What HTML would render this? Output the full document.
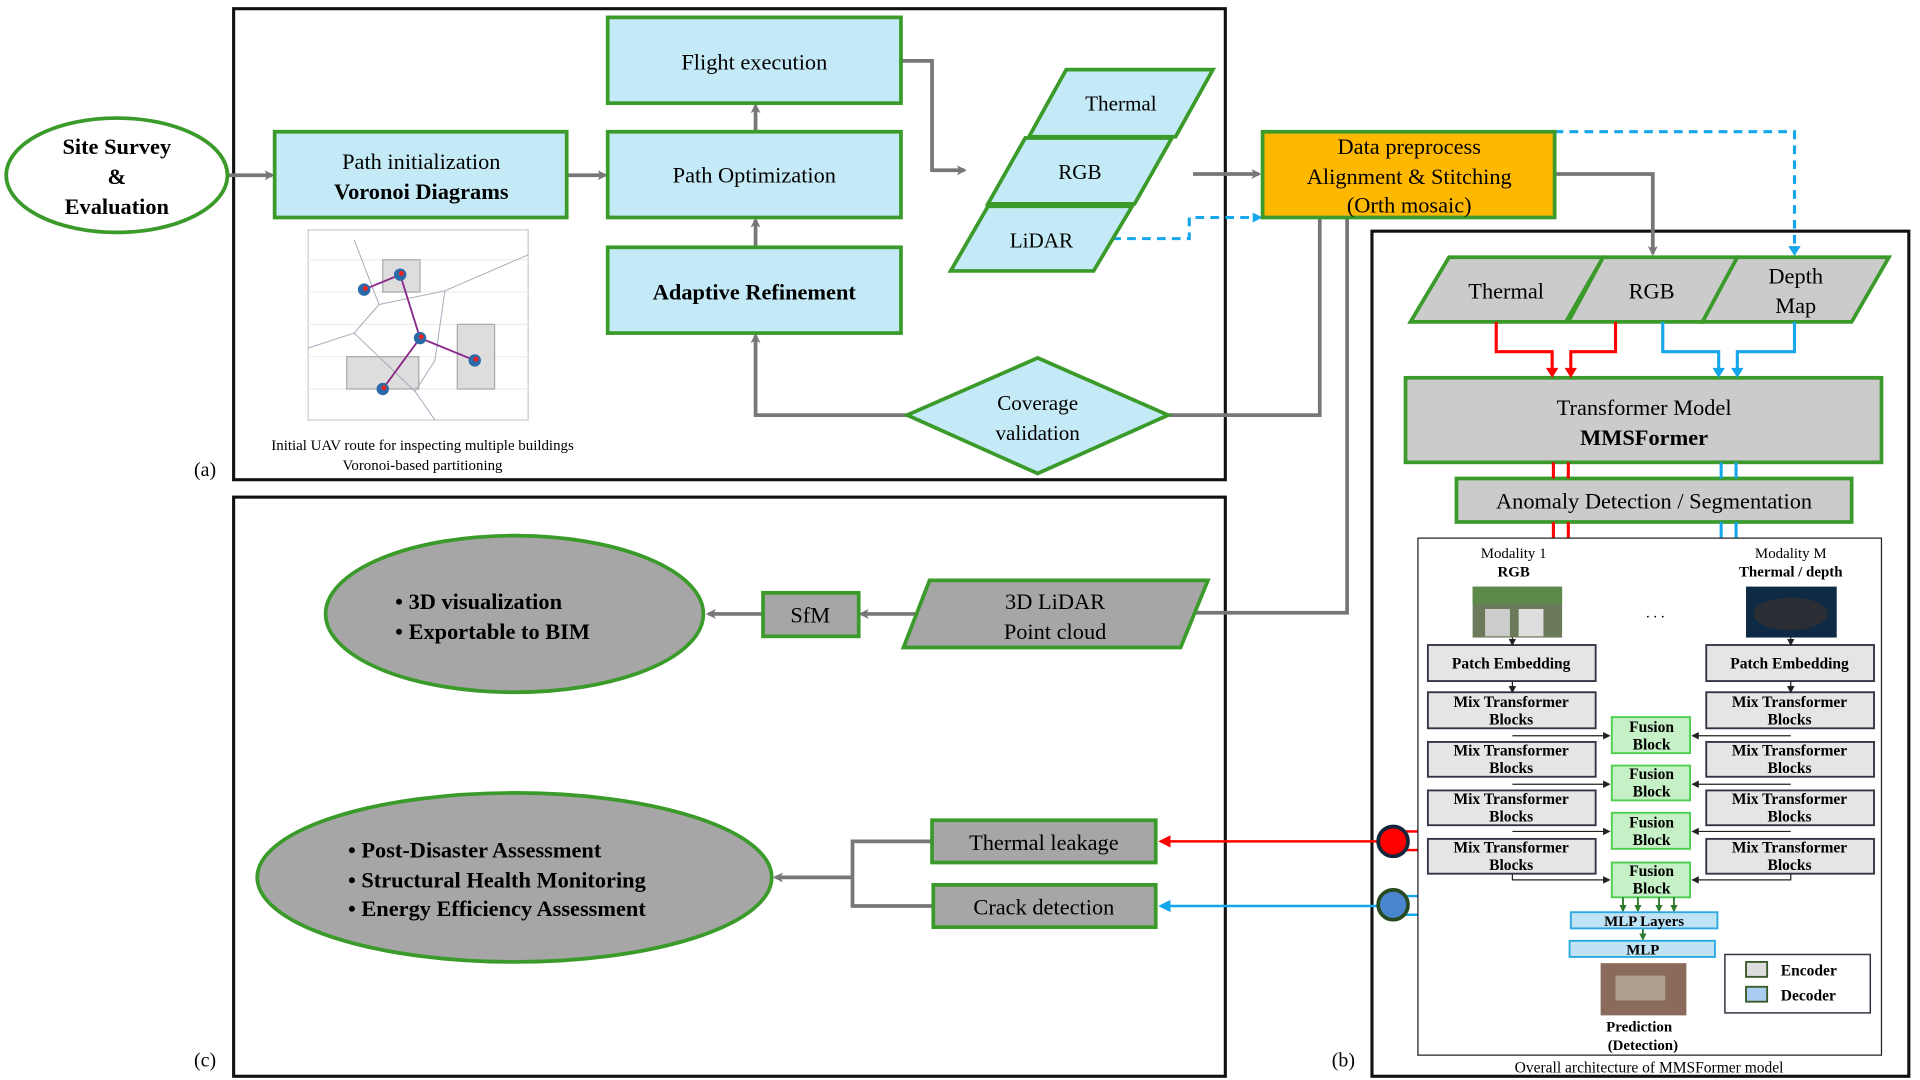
<!DOCTYPE html>
<html><head><meta charset="utf-8"><style>
html,body{margin:0;padding:0;background:#fff;}
svg{display:block;}
text{font-family:"Liberation Serif",serif;fill:#000;}
</style></head><body>
<svg width="1920" height="1080" viewBox="0 0 1545 869" preserveAspectRatio="none" xmlns="http://www.w3.org/2000/svg">
<defs>
<marker id="ag" markerWidth="8" markerHeight="8" refX="6" refY="4" orient="auto" markerUnits="userSpaceOnUse"><path d="M0,0 L8,4 L0,8 L2,4z" fill="#777"/></marker>
<marker id="ar" markerWidth="10" markerHeight="10" refX="8" refY="5" orient="auto" markerUnits="userSpaceOnUse"><path d="M0,0 L10,5 L0,10z" fill="#f00"/></marker>
<marker id="ab" markerWidth="10" markerHeight="10" refX="8" refY="5" orient="auto" markerUnits="userSpaceOnUse"><path d="M0,0 L10,5 L0,10z" fill="#16a6ec"/></marker>
<marker id="ak" markerWidth="6" markerHeight="6" refX="5" refY="3" orient="auto" markerUnits="userSpaceOnUse"><path d="M0,0 L6,3 L0,6z" fill="#222"/></marker>
<marker id="agr" markerWidth="6" markerHeight="6" refX="5" refY="3" orient="auto" markerUnits="userSpaceOnUse"><path d="M0,0 L6,3 L0,6z" fill="#2d7a2d"/></marker>
</defs>

<!-- panels -->
<rect x="188" y="7" width="798" height="379" fill="none" stroke="#111" stroke-width="2.5"/>
<rect x="188" y="400" width="798" height="466" fill="none" stroke="#111" stroke-width="2.5"/>
<rect x="1104" y="186" width="432" height="680" fill="none" stroke="#111" stroke-width="2.5"/>
<text x="165" y="383" font-size="16" text-anchor="middle">(a)</text>
<text x="165" y="858" font-size="16" text-anchor="middle">(c)</text>
<text x="1081" y="858" font-size="16" text-anchor="middle">(b)</text>

<!-- gray connectors panel a -->
<g stroke="#777" stroke-width="3" fill="none" marker-end="url(#ag)">
<line x1="183" y1="141" x2="219" y2="141"/>
<line x1="456" y1="141" x2="487" y2="141"/>
<line x1="608" y1="106" x2="608" y2="85"/>
<line x1="608" y1="199" x2="608" y2="177"/>
<polyline points="725,49 750,49 750,137 776,137"/>
<line x1="960" y1="140" x2="1013" y2="140"/>
<polyline points="730,334 608,334 608,270"/>
<polyline points="1251,140 1330,140 1330,204"/>
<polyline points="1084,175 1084,493 949,493"/>
<line x1="748" y1="494" x2="693" y2="494"/>
<line x1="614" y1="494" x2="570" y2="494"/>
<polyline points="750,677 686,677 686,729 751,729" marker-end="none"/>
<line x1="686" y1="706" x2="624" y2="706"/>
</g>
<polyline points="940,334 1062,334 1062,175" stroke="#777" stroke-width="3" fill="none"/>

<!-- dashed blue -->
<g stroke="#16a6ec" stroke-width="2.5" fill="none" stroke-dasharray="7,5">
<polyline points="895,192 957,192 957,175 1010,175"/>
<polyline points="1251,106 1444,106 1444,200"/>
</g>
<path d="M1008,171 L1016,175 L1008,179z" fill="#16a6ec"/>
<path d="M1439,198 L1444,206 L1449,198z" fill="#16a6ec"/>

<!-- site survey -->
<ellipse cx="94" cy="141" rx="89" ry="46" fill="#fff" stroke="#3a9a2a" stroke-width="3"/>
<text x="94" y="124" font-size="18" font-weight="bold" text-anchor="middle">Site Survey</text>
<text x="94" y="148" font-size="18" font-weight="bold" text-anchor="middle">&amp;</text>
<text x="94" y="172" font-size="18" font-weight="bold" text-anchor="middle">Evaluation</text>

<g fill="#c5eaf7" stroke="#3a9a2a" stroke-width="3">
<rect x="221" y="106" width="235" height="69"/>
<rect x="489" y="106" width="236" height="69"/>
<rect x="489" y="14" width="236" height="69"/>
<rect x="489" y="199" width="236" height="69"/>
<polygon points="858,56 976,56 946,110 828,110"/>
<polygon points="825,111 943,111 913,164 795,164"/>
<polygon points="795,166 911,166 880,218 765,218"/>
<polygon points="730,334 835,288 940,334 835,381"/>
</g>
<text x="339" y="136" font-size="18" text-anchor="middle">Path initialization</text>
<text x="339" y="160" font-size="18" font-weight="bold" text-anchor="middle">Voronoi Diagrams</text>
<text x="607" y="147" font-size="18" text-anchor="middle">Path Optimization</text>
<text x="607" y="56" font-size="18" text-anchor="middle">Flight execution</text>
<text x="607" y="241" font-size="18" font-weight="bold" text-anchor="middle">Adaptive Refinement</text>
<text x="902" y="89" font-size="17" text-anchor="middle">Thermal</text>
<text x="869" y="144" font-size="17" text-anchor="middle">RGB</text>
<text x="838" y="199" font-size="17" text-anchor="middle">LiDAR</text>
<text x="835" y="330" font-size="17" text-anchor="middle">Coverage</text>
<text x="835" y="354" font-size="17" text-anchor="middle">validation</text>

<!-- chart -->
<g>
<rect x="230" y="180" width="198" height="165" fill="#fff"/>
<rect x="248" y="185" width="177" height="153" fill="none" stroke="#ccc" stroke-width="1"/>
<g stroke="#eee" stroke-width="1"><line x1="248" y1="209" x2="425" y2="209"/><line x1="248" y1="235" x2="425" y2="235"/><line x1="248" y1="261" x2="425" y2="261"/><line x1="248" y1="287" x2="425" y2="287"/><line x1="248" y1="313" x2="425" y2="313"/></g>
<rect x="308" y="209" width="30" height="26" fill="#ddd" stroke="#aaa"/>
<rect x="279" y="287" width="58" height="26" fill="#ddd" stroke="#aaa"/>
<rect x="368" y="261" width="30" height="52" fill="#ddd" stroke="#aaa"/>
<g stroke="#aab" stroke-width="0.8" fill="none"><polyline points="285,193 305,245 358,234 425,205"/><polyline points="248,280 285,268 305,245"/><polyline points="285,268 334,315 350,338"/><polyline points="358,234 350,290 334,315"/></g>
<polyline points="293,233 322,221 338,272 308,313" stroke="#8a2a8a" stroke-width="1.5" fill="none"/>
<line x1="338" y1="272" x2="382" y2="290" stroke="#8a2a8a" stroke-width="1.5"/>
<g fill="#2a6aa8"><circle cx="293" cy="233" r="5"/><circle cx="322" cy="221" r="5"/><circle cx="338" cy="272" r="5"/><circle cx="382" cy="290" r="5"/><circle cx="308" cy="313" r="5"/></g>
<g fill="#e22"><circle cx="294" cy="232" r="2"/><circle cx="323" cy="220" r="2"/><circle cx="339" cy="271" r="2"/><circle cx="383" cy="289" r="2"/><circle cx="309" cy="312" r="2"/></g>
</g>
<text x="340" y="362" font-size="12" text-anchor="middle">Initial UAV route for inspecting multiple buildings</text>
<text x="340" y="378" font-size="12" text-anchor="middle">Voronoi-based partitioning</text>

<!-- data preprocess -->
<rect x="1016" y="106" width="235" height="69" fill="#ffb800" stroke="#3a9a2a" stroke-width="3"/>
<text x="1134" y="124" font-size="18" text-anchor="middle">Data preprocess</text>
<text x="1134" y="148" font-size="18" text-anchor="middle">Alignment &amp; Stitching</text>
<text x="1134" y="171" font-size="18" text-anchor="middle">(Orth mosaic)</text>

<!-- panel c -->
<g fill="#a6a6a6" stroke="#3a9a2a" stroke-width="3">
<ellipse cx="414" cy="494" rx="152" ry="63"/>
<ellipse cx="414" cy="706" rx="207" ry="68"/>
<rect x="614" y="477" width="77" height="35"/>
<polygon points="748,467 972,467 950,521 727,521"/>
<rect x="750" y="660" width="180" height="34"/>
<rect x="751" y="712" width="179" height="34"/>
</g>
<text x="318" y="490" font-size="18" font-weight="bold">• 3D visualization</text>
<text x="318" y="514" font-size="18" font-weight="bold">• Exportable to BIM</text>
<text x="280" y="690" font-size="18" font-weight="bold">• Post-Disaster Assessment</text>
<text x="280" y="714" font-size="18" font-weight="bold">• Structural Health Monitoring</text>
<text x="280" y="737" font-size="18" font-weight="bold">• Energy Efficiency Assessment</text>
<text x="652" y="501" font-size="18" text-anchor="middle">SfM</text>
<text x="849" y="490" font-size="18" text-anchor="middle">3D LiDAR</text>
<text x="849" y="514" font-size="18" text-anchor="middle">Point cloud</text>
<text x="840" y="684" font-size="18" text-anchor="middle">Thermal leakage</text>
<text x="840" y="736" font-size="18" text-anchor="middle">Crack detection</text>

<line x1="1110" y1="677" x2="934" y2="677" stroke="#f00" stroke-width="2" marker-end="url(#ar)"/>
<line x1="1110" y1="729" x2="934" y2="729" stroke="#16a6ec" stroke-width="2" marker-end="url(#ab)"/>
<g stroke-width="2"><line x1="1130" y1="669" x2="1142" y2="669" stroke="#f00"/><line x1="1130" y1="684" x2="1142" y2="684" stroke="#f00"/>
<line x1="1130" y1="721" x2="1144" y2="721" stroke="#16a6ec"/><line x1="1130" y1="736" x2="1144" y2="736" stroke="#16a6ec"/></g>
<circle cx="1121" cy="677" r="12" fill="#f00" stroke="#13253a" stroke-width="3"/>
<circle cx="1121" cy="728" r="12" fill="#4a86d0" stroke="#274a20" stroke-width="3"/>

<!-- panel b -->
<g fill="#cbcbcb" stroke="#3a9a2a" stroke-width="3">
<polygon points="1166,207 1290,207 1260,259 1135,259"/>
<polygon points="1290,207 1398,207 1370,259 1262,259"/>
<polygon points="1398,207 1520,207 1490,259 1370,259"/>
<rect x="1131" y="304" width="383" height="68"/>
<rect x="1172" y="385" width="318" height="35"/>
</g>
<text x="1212" y="240" font-size="18" text-anchor="middle">Thermal</text>
<text x="1329" y="240" font-size="18" text-anchor="middle">RGB</text>
<text x="1445" y="228" font-size="18" text-anchor="middle">Depth</text>
<text x="1445" y="252" font-size="18" text-anchor="middle">Map</text>
<text x="1323" y="334" font-size="18" text-anchor="middle">Transformer Model</text>
<text x="1323" y="358" font-size="18" font-weight="bold" text-anchor="middle">MMSFormer</text>
<text x="1331" y="409" font-size="18" text-anchor="middle">Anomaly Detection / Segmentation</text>

<g stroke="#f00" stroke-width="2.5" fill="none">
<polyline points="1204,259 1204,283 1249,283 1249,300"/>
<polyline points="1300,259 1300,283 1264,283 1264,300"/>
<line x1="1250" y1="372" x2="1250" y2="385"/><line x1="1262" y1="372" x2="1262" y2="385"/>
<line x1="1250" y1="420" x2="1250" y2="433"/><line x1="1262" y1="420" x2="1262" y2="433"/>
</g>
<g stroke="#16a6ec" stroke-width="2.5" fill="none">
<polyline points="1338,259 1338,283 1383,283 1383,300"/>
<polyline points="1444,259 1444,283 1398,283 1398,300"/>
<line x1="1385" y1="372" x2="1385" y2="385"/><line x1="1397" y1="372" x2="1397" y2="385"/>
<line x1="1385" y1="420" x2="1385" y2="433"/><line x1="1397" y1="420" x2="1397" y2="433"/>
</g>
<path d="M1244,296 L1249,304 L1254,296z M1259,296 L1264,304 L1269,296z" fill="#f00"/>
<path d="M1378,296 L1383,304 L1388,296z M1393,296 L1398,304 L1403,296z" fill="#16a6ec"/>

<!-- inner architecture -->
<rect x="1141" y="433" width="373" height="416" fill="#fff" stroke="#222" stroke-width="1"/>
<g font-size="12" text-anchor="middle" fill="#333">
<text x="1218" y="449" fill="#333">Modality 1</text>
<text x="1218" y="464" font-weight="bold">RGB</text>
<text x="1441" y="449" fill="#333">Modality M</text>
<text x="1441" y="464" font-weight="bold">Thermal / depth</text>
<text x="1332" y="497">. . .</text>
</g>
<rect x="1185" y="472" width="72" height="41" fill="#6a7a5a"/>
<rect x="1185" y="472" width="72" height="14" fill="#5d8a4a"/>
<rect x="1195" y="490" width="20" height="22" fill="#ccc"/><rect x="1222" y="490" width="20" height="22" fill="#ddd"/>
<rect x="1405" y="472" width="73" height="41" fill="#0e2a44"/>
<ellipse cx="1441" cy="494" rx="30" ry="13" fill="#2a2e34"/>

<g fill="#e5e5e5" stroke="#334" stroke-width="1.5">
<rect x="1149" y="519" width="135" height="29"/><rect x="1373" y="519" width="135" height="29"/>
<rect x="1149" y="557" width="135" height="29"/><rect x="1373" y="557" width="135" height="29"/>
<rect x="1149" y="597" width="135" height="28"/><rect x="1373" y="597" width="135" height="28"/>
<rect x="1149" y="636" width="135" height="28"/><rect x="1373" y="636" width="135" height="28"/>
<rect x="1149" y="675" width="135" height="28"/><rect x="1373" y="675" width="135" height="28"/>
</g>
<g font-size="12.5" text-anchor="middle" font-weight="bold" fill="#333">
<text x="1216" y="538">Patch Embedding</text><text x="1440" y="538">Patch Embedding</text>
<text x="1216" y="569">Mix Transformer</text><text x="1216" y="583">Blocks</text>
<text x="1440" y="569">Mix Transformer</text><text x="1440" y="583">Blocks</text>
<text x="1216" y="608">Mix Transformer</text><text x="1216" y="622">Blocks</text>
<text x="1440" y="608">Mix Transformer</text><text x="1440" y="622">Blocks</text>
<text x="1216" y="647">Mix Transformer</text><text x="1216" y="661">Blocks</text>
<text x="1440" y="647">Mix Transformer</text><text x="1440" y="661">Blocks</text>
<text x="1216" y="686">Mix Transformer</text><text x="1216" y="700">Blocks</text>
<text x="1440" y="686">Mix Transformer</text><text x="1440" y="700">Blocks</text>
</g>
<g fill="#c6f0c6" stroke="#4ccf4c" stroke-width="1.5">
<rect x="1297" y="577" width="63" height="29"/><rect x="1297" y="616" width="63" height="28"/>
<rect x="1297" y="654" width="63" height="29"/><rect x="1297" y="694" width="63" height="28"/>
</g>
<g font-size="12.5" text-anchor="middle" font-weight="bold" fill="#333">
<text x="1329" y="589">Fusion</text><text x="1329" y="603">Block</text>
<text x="1329" y="627">Fusion</text><text x="1329" y="641">Block</text>
<text x="1329" y="666">Fusion</text><text x="1329" y="680">Block</text>
<text x="1329" y="705">Fusion</text><text x="1329" y="719">Block</text>
</g>
<g stroke="#222" stroke-width="1" fill="none" marker-end="url(#ak)">
<line x1="1217" y1="513" x2="1217" y2="519"/><line x1="1441" y1="513" x2="1441" y2="519"/>
<line x1="1217" y1="548" x2="1217" y2="557"/><line x1="1441" y1="548" x2="1441" y2="557"/>
<line x1="1217" y1="592" x2="1295" y2="592"/><line x1="1441" y1="592" x2="1362" y2="592"/>
<line x1="1217" y1="631" x2="1295" y2="631"/><line x1="1441" y1="631" x2="1362" y2="631"/>
<line x1="1217" y1="669" x2="1295" y2="669"/><line x1="1441" y1="669" x2="1362" y2="669"/>
<polyline points="1217,703 1217,708 1295,708"/><polyline points="1441,703 1441,708 1362,708"/>
</g>
<g stroke="#2d7a2d" stroke-width="1.5" marker-end="url(#agr)">
<line x1="1306" y1="722" x2="1306" y2="733"/><line x1="1318" y1="722" x2="1318" y2="733"/>
<line x1="1335" y1="722" x2="1335" y2="733"/><line x1="1347" y1="722" x2="1347" y2="733"/>
<line x1="1322" y1="747" x2="1322" y2="756"/>
</g>
<g fill="#bfe3f5" stroke="#29a9e0" stroke-width="1.5">
<rect x="1264" y="734" width="118" height="13"/><rect x="1263" y="757" width="117" height="13"/>
</g>
<text x="1323" y="745" font-size="12" font-weight="bold" text-anchor="middle" fill="#333">MLP Layers</text>
<text x="1322" y="768" font-size="12" font-weight="bold" text-anchor="middle" fill="#333">MLP</text>
<rect x="1288" y="775" width="69" height="42" fill="#8a6a5a"/>
<rect x="1300" y="785" width="40" height="20" fill="#b0a090"/>
<text x="1319" y="830" font-size="12" font-weight="bold" text-anchor="middle" fill="#444">Prediction</text>
<text x="1322" y="845" font-size="12" font-weight="bold" text-anchor="middle" fill="#444">(Detection)</text>
<rect x="1388" y="768" width="117" height="47" fill="#fff" stroke="#334" stroke-width="1.2"/>
<rect x="1405" y="774" width="17" height="12" fill="#ddd" stroke="#3a5a2a" stroke-width="1.5"/>
<rect x="1405" y="794" width="17" height="12" fill="#a8cdf0" stroke="#3a5a2a" stroke-width="1.5"/>
<text x="1433" y="785" font-size="12.5" font-weight="bold" fill="#333">Encoder</text>
<text x="1433" y="805" font-size="12.5" font-weight="bold" fill="#333">Decoder</text>
<text x="1327" y="863" font-size="12.5" text-anchor="middle">Overall architecture of MMSFormer model</text>
</svg>
</body></html>
